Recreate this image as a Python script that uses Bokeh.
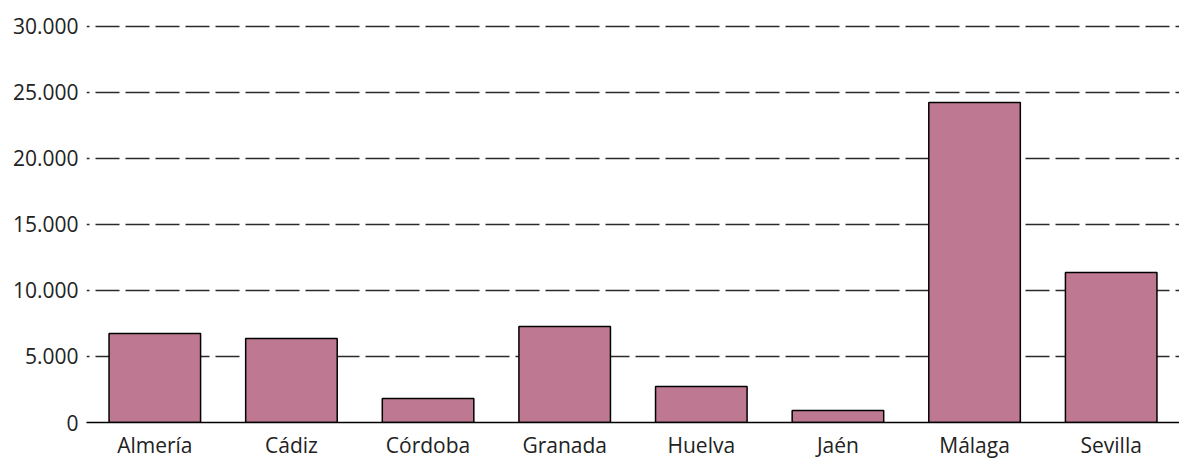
from bokeh.plotting import figure
from bokeh.models import Range1d, FactorRange, FixedTicker
from bokeh.embed import file_html
from bokeh.resources import INLINE

provincias = ["Almería", "Cádiz", "Córdoba", "Granada", "Huelva", "Jaén", "Málaga", "Sevilla"]
valores = [6740, 6360, 1820, 7270, 2730, 910, 24240, 11360]
y_ticks = [0, 5000, 10000, 15000, 20000, 25000, 30000]
y_tick_labels = ["0", "5.000", "10.000", "15.000", "20.000", "25.000", "30.000"]

FONT = "Open Sans"
TXT = "#222222"

p = figure(x_range=FactorRange(*provincias, range_padding=0),
           y_range=Range1d(0, 30300),
           frame_width=1093, frame_height=400,
           output_backend="svg", toolbar_location=None,
           min_border_left=86, min_border_right=0, min_border_top=22, min_border_bottom=0)

p.vbar(x=provincias, top=valores, width=0.67, bottom=0,
       fill_color="#BF7891", line_color="#000000", line_width=1.5)

p.outline_line_color = None
p.background_fill_color = "white"
p.border_fill_color = "white"

p.xgrid.grid_line_color = None
p.ygrid.ticker = FixedTicker(ticks=y_ticks)
p.ygrid.grid_line_color = "#2a2a2a"
p.ygrid.grid_line_width = 1.5
p.ygrid.grid_line_dash = "24 6"
p.ygrid.grid_line_dash_offset = 21

p.yaxis.ticker = FixedTicker(ticks=y_ticks)
p.yaxis.major_label_overrides = {t: l for t, l in zip(y_ticks, y_tick_labels)}
p.yaxis.axis_line_color = None
p.yaxis.major_tick_line_color = None
p.yaxis.minor_tick_line_color = None
p.yaxis.major_tick_out = 0
p.yaxis.major_tick_in = 0
p.yaxis.major_label_standoff = 8
p.yaxis.major_label_text_font = FONT
p.yaxis.major_label_text_font_size = "21px"
p.yaxis.major_label_text_color = TXT

p.xaxis.axis_line_color = "#000000"
p.xaxis.axis_line_width = 1.5
p.xaxis.major_tick_line_color = None
p.xaxis.minor_tick_line_color = None
p.xaxis.major_tick_out = 0
p.xaxis.major_tick_in = 0
p.xaxis.major_label_standoff = 8
p.xaxis.major_label_text_font = FONT
p.xaxis.major_label_text_font_size = "21px"
p.xaxis.major_label_text_color = TXT

open("out.html", "w").write(file_html(p, INLINE))
